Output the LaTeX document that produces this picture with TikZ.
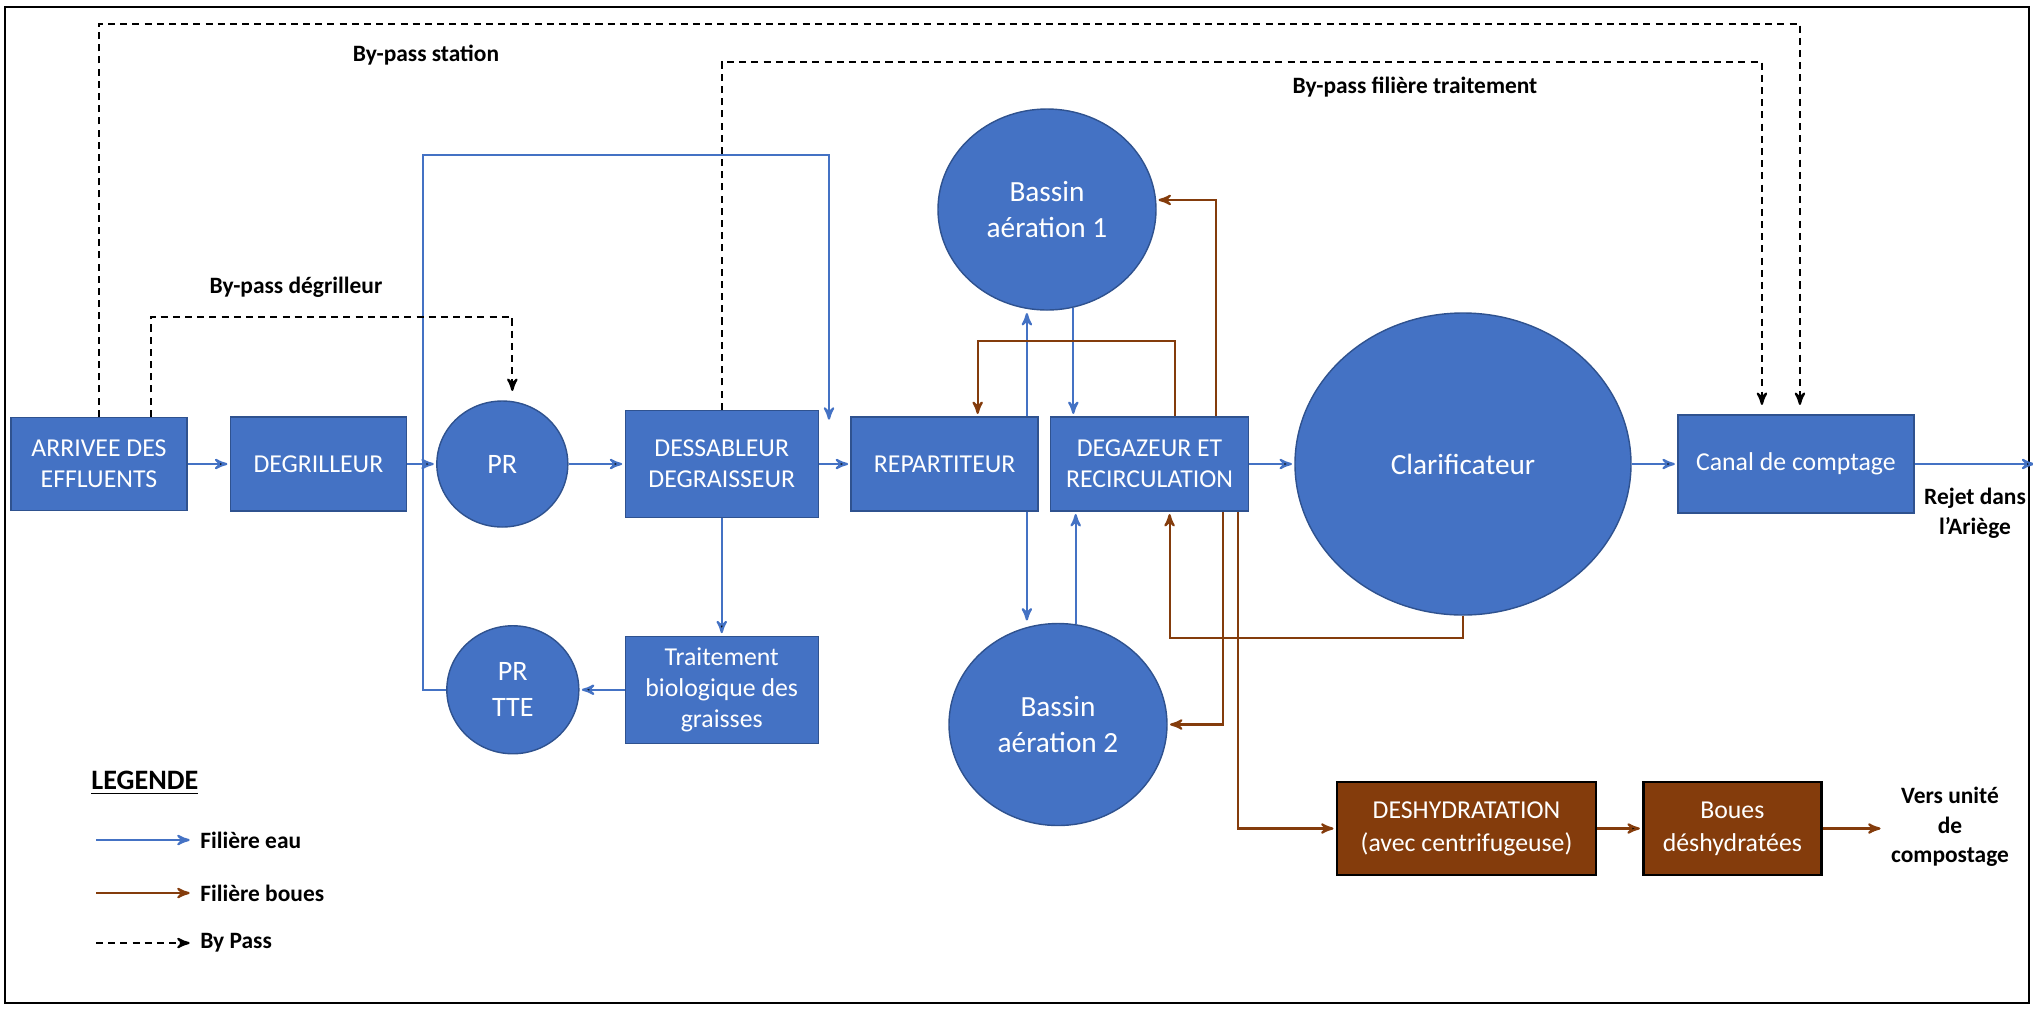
\documentclass[tikz,border=0pt]{standalone}
\usepackage{fontspec}
\setmainfont{Carlito}
\usepackage{tikz}
\usetikzlibrary{arrows,shapes.geometric,positioning,calc}

\definecolor{boxblue}{HTML}{4472C4}
\definecolor{boxedge}{HTML}{2F528F}
\definecolor{sludgebrown}{HTML}{843C0C}

\begin{document}
\begin{tikzpicture}[->,>=stealth',shorten >=1pt,auto,
        x=0.015cm,y=-0.015cm,
        font=\fontsize{11}{13.4}\selectfont,
        unit/.style={rectangle,draw=boxedge,fill=boxblue,text=white,align=center,line width=0.6pt},
        basin/.style={ellipse,draw=boxedge,fill=boxblue,text=white,align=center,line width=0.6pt,inner sep=0pt,
                      font=\fontsize{12.5}{15.5}\selectfont},
        sludgeunit/.style={rectangle,draw=black,fill=sludgebrown,text=white,align=center,line width=1pt,
                      font=\fontsize{11}{14.2}\selectfont},
        lbl/.style={font=\fontsize{10}{12.6}\selectfont\bfseries,align=center},
        water/.style={draw=boxblue,line width=0.9pt},
        sludge/.style={draw=sludgebrown,line width=0.9pt},
        bypass/.style={draw=black,line width=0.9pt,dash pattern=on 3pt off 2.2pt,shorten >=4pt}]

  \useasboundingbox (0,0) rectangle (2033,1009);
  \draw[-,line width=1.2pt] (5,7) rectangle (2029,1003);

  % filiere eau
  \node[unit,minimum width=2.64cm,minimum height=1.395cm] (arrivee) at (99,464) {ARRIVEE DES\\EFFLUENTS};
  \node[unit,minimum width=2.64cm,minimum height=1.41cm,right=0.63cm of arrivee] (degrilleur) {DEGRILLEUR};
  \node[basin,minimum width=1.965cm,minimum height=1.89cm,right=0.435cm of degrilleur,
        font=\fontsize{12}{15.5}\selectfont] (pr) {PR};
  \node[unit,minimum width=2.895cm,minimum height=1.605cm,right=0.84cm of pr] (dessableur) {DESSABLEUR\\DEGRAISSEUR};
  \node[unit,minimum width=2.805cm,minimum height=1.41cm,right=0.4725cm of dessableur] (repartiteur) {REPARTITEUR};
  \node[unit,minimum width=2.97cm,minimum height=1.41cm,right=0.165cm of repartiteur] (degazeur) {DEGAZEUR ET\\RECIRCULATION};
  \node[basin,minimum width=5.04cm,minimum height=4.53cm,right=0.675cm of degazeur] (clarif) {Clarificateur};
  \node[unit,minimum width=3.54cm,minimum height=1.47cm,right=0.6825cm of clarif] (canal) {Canal de comptage};
  \node[unit,minimum width=2.895cm,minimum height=1.605cm,below=1.76cm of dessableur] (traitement) {Traitement\\biologique des\\graisses};
  \node[basin,minimum width=1.98cm,minimum height=1.92cm,left=0.675cm of traitement,
        font=\fontsize{12}{15.5}\selectfont] (prtte) {PR\\TTE};
  \node[basin,minimum width=3.27cm,minimum height=3.015cm] (bassinA) at (1047,209.5) {Bassin\\aération 1};
  \node[basin,minimum width=3.27cm,minimum height=3.03cm] (bassinB) at (1058,724.5) {Bassin\\aération 2};

  % filiere boues
  \node[sludgeunit,minimum width=3.885cm,minimum height=1.395cm] (deshyd) at (1466.5,828.5) {DESHYDRATATION\\(avec centrifugeuse)};
  \node[sludgeunit,minimum width=2.67cm,minimum height=1.395cm,right=0.675cm of deshyd] (boues) {Boues\\déshydratées};

  \node[lbl] (rejet) at (1975,513) {Rejet dans\\l’Ariège};
  \node[lbl] (compost) at (1950,827) {Vers unité\\de\\compostage};
  \node[lbl] (bpstation) at (426,55) {By-pass station};
  \node[lbl] (bpdegril) at (296,287) {By-pass dégrilleur};
  \node[lbl] (bpfiliere) at (1415,87) {By-pass filière traitement};

  \coordinate (exut) at ($(canal.east)+(122,0)$);
  \coordinate (retour) at (423,155);
  \coordinate (inlet) at (829,422);
  \coordinate (rA) at ($(repartiteur.north east)+(-12,0)$);
  \coordinate (rB) at ($(repartiteur.south east)+(-12,0)$);

  \path[water] (arrivee) edge (degrilleur)
        (degrilleur) edge (pr)
        (pr) edge (dessableur)
        (dessableur) edge (repartiteur)
        (degazeur) edge (clarif)
        (clarif) edge (canal)
        (canal) edge (exut)
        (dessableur) edge (traitement)
        (traitement) edge (prtte);

  \draw[water] (prtte.west) -| (retour) -| (inlet);
  \draw[water] (rA) -- (rA |- bassinA.south);
  \draw[water] (rB) -- (rB |- bassinB.north);
  \draw[water] (bassinA.-75) -- (bassinA.-75 |- degazeur.north);
  \draw[water] (bassinB.80) -- (bassinB.80 |- degazeur.south);

  \draw[sludge] ($(degazeur.north)+(25,0)$) -- ++(0,-75) -| ($(repartiteur.north)+(33,0)$);
  \draw[sludge] ($(degazeur.north)+(66,0)$) |- (bassinA.5);
  \draw[sludge] ($(degazeur.south)+(73,0)$) |- (bassinB.east);
  \draw[sludge] ($(degazeur.south)+(88,0)$) |- (deshyd.west);
  \draw[sludge] (clarif.south) -- ++(0,22) -| ($(degazeur.south)+(20,0)$);
  \path[sludge] (deshyd) edge (boues);
  \draw[sludge] (boues.east) -- (boues.east -| compost.west);

  % by-pass
  \draw[bypass] (arrivee.north) -- ++(0,-393) -| ($(canal.north)+(4,0)$);
  \draw[bypass] ($(arrivee.north)+(52,0)$) -- ++(0,-100) -| ($(pr.north)+(10,0)$);
  \draw[bypass] (dessableur.north) -- ++(0,-348) -| ($(canal.north)+(-34,0)$);

  % legende
  \node[font=\fontsize{12}{14}\selectfont\bfseries,anchor=west,inner sep=0pt] (legende) at (91,783) {\underline{LEGENDE}};
  \node[lbl,anchor=west] (legeau) at (192,840) {Filière eau};
  \node[lbl,anchor=west] (legboues) at (192,893) {Filière boues};
  \node[lbl,anchor=west] (legbypass) at (192,943) {By Pass};
  \draw[water] ($(legeau.west)+(-96,0)$) -- (legeau.west);
  \draw[sludge] ($(legboues.west)+(-96,0)$) -- (legboues.west);
  \draw[bypass,shorten >=1pt] ($(legbypass.west)+(-96,0)$) -- (legbypass.west);

\end{tikzpicture}
\end{document}
